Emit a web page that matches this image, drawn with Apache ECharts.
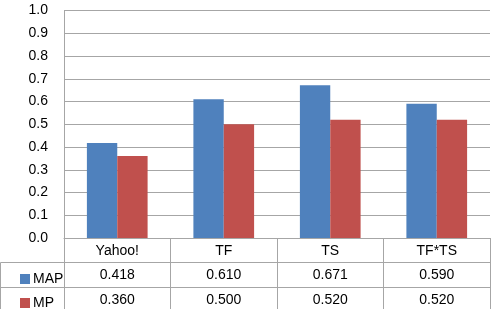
<!DOCTYPE html>
<html>
<head>
    <meta charset="utf-8">
    <title>MAP / MP</title>
    <script src="https://cdn.jsdelivr.net/npm/echarts@6/dist/echarts.min.js"></script>
    <style>
        html, body { margin: 0; padding: 0; background: #fff; }
        #chart1 { width: 493px; height: 309px; }
    </style>
</head>
<body>
<div id="chart1"></div>
<script type="text/javascript">
    // 数据
    var categories = ['Yahoo!', 'TF', 'TS', 'TF*TS'];
    var mapValues = [0.418, 0.610, 0.671, 0.590];
    var mpValues = [0.360, 0.500, 0.520, 0.520];
    var yTicks = [0, 0.1, 0.2, 0.3, 0.4, 0.5, 0.6, 0.7, 0.8, 0.9, 1.0];

    var lineColor = '#a6a6a6';
    var font = 'Liberation Sans, Arial, sans-serif';

    function fmt3(v) { return v.toFixed(3); }

    var myChart1 = echarts.init(document.getElementById('chart1'));

    // table row axes share the look, only the label list changes
    function tableAxis(labels, offset) {
        return {
            type: 'category',
            position: 'bottom',
            offset: offset,
            data: labels,
            axisLine: { show: true, lineStyle: { color: lineColor, width: 1 } },
            axisTick: { show: false },
            axisLabel: { color: '#000', fontFamily: font, fontSize: 14, margin: 6 },
            splitLine: { show: false }
        };
    }

    myChart1.setOption({
        animation: false,
        grid: { left: 64, right: 3, top: 10.5, bottom: 71 },
        legend: [
            {
                data: ['MAP'], left: 15, top: 267, itemWidth: 10, itemHeight: 10, itemGap: 0,
                icon: 'rect', textStyle: { color: '#000', fontFamily: font, fontSize: 14, padding: [0, 0, 0, -2] }
            },
            {
                data: ['MP'], left: 15, top: 291, itemWidth: 10, itemHeight: 10, itemGap: 0,
                icon: 'rect', textStyle: { color: '#000', fontFamily: font, fontSize: 14, padding: [0, 0, 0, -2] }
            }
        ],
        xAxis: [
            {
                type: 'category',
                data: categories,
                axisLine: { show: true, lineStyle: { color: lineColor, width: 1 } },
                axisTick: { show: true, interval: 0, length: 75, lineStyle: { color: lineColor } },
                axisLabel: { color: '#000', fontFamily: font, fontSize: 14, margin: 6 }
            },
            tableAxis(mapValues.map(fmt3), 24),
            tableAxis(mpValues.map(fmt3), 49)
        ],
        yAxis: {
            type: 'value',
            min: yTicks[0],
            max: yTicks[yTicks.length - 1],
            interval: 0.1,
            axisLine: { show: true, lineStyle: { color: lineColor } },
            axisTick: { show: false },
            axisLabel: {
                color: '#000', fontFamily: font, fontSize: 14, margin: 16,
                formatter: function (v) { return v.toFixed(1); }
            },
            splitLine: { lineStyle: { color: lineColor, width: 1 } }
        },
        series: [
            {
                name: 'MAP', type: 'bar', data: mapValues,
                barGap: 0, barCategoryGap: '43%',
                itemStyle: { color: '#4f81bd' }
            },
            {
                name: 'MP', type: 'bar', data: mpValues,
                barGap: 0, barCategoryGap: '43%',
                itemStyle: { color: '#c0504d' }
            }
        ],
        // borders of the legend cells left of the table
        graphic: [
            { type: 'line', shape: { x1: 0.5, y1: 262.5, x2: 64, y2: 262.5 }, style: { stroke: lineColor } },
            { type: 'line', shape: { x1: 0.5, y1: 287.5, x2: 64, y2: 287.5 }, style: { stroke: lineColor } },
            { type: 'line', shape: { x1: 0.5, y1: 262.5, x2: 0.5, y2: 309 }, style: { stroke: lineColor } }
        ]
    });
</script>
</body>
</html>
